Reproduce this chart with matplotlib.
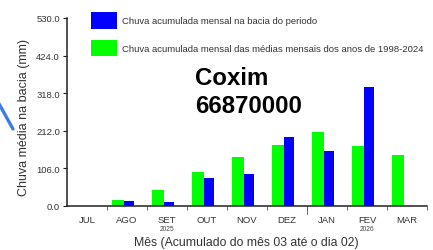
import matplotlib
matplotlib.use("Agg")
import matplotlib.pyplot as plt
from matplotlib.patches import Rectangle
from matplotlib.lines import Line2D
import numpy as np

plt.rcParams['font.family'] = ['Liberation Sans', 'DejaVu Sans']

months = ["JUL", "AGO", "SET", "OUT", "NOV", "DEZ", "JAN", "FEV", "MAR"]
media_hist = [0, 17, 44, 96, 137, 173, 209, 170, 145]
periodo = [0, 13, 10, 80, 91, 194, 155, 335, None]
yticks = [0.0, 106.0, 212.0, 318.0, 424.0, 530.0]
legend_labels = ["Chuva acumulada mensal na bacia do periodo",
                 "Chuva acumulada mensal das médias mensais dos anos de 1998-2024"]
station = "Coxim\n66870000"
year_labels = {"SET": "2025", "FEV": "2026"}

W, H = 433, 251
fig = plt.figure(figsize=(W / 100, H / 100), dpi=100)
ax = fig.add_axes([67 / W, 1 - 207 / H, 360 / W, 188 / H])

x = np.arange(len(months))
green = "#00ff00"
blue = "#0000ff"
ax.bar(x - 0.375, media_hist, width=0.3, align='edge', color=green, edgecolor='none', zorder=2)
pv = [v if v is not None else 0 for v in periodo]
ax.bar(x - 0.075, pv, width=0.26, align='edge', color=blue, edgecolor='none', zorder=2)

ax.set_xlim(-0.5, len(months) - 0.5)
ax.set_ylim(0, 530)
for s in ['top', 'right']:
    ax.spines[s].set_visible(False)
for s in ['left', 'bottom']:
    ax.spines[s].set_color('#222222')
    ax.spines[s].set_linewidth(1.1)

ax.set_yticks(yticks)
ax.set_yticklabels([f"{v:.1f}" for v in yticks])
ax.tick_params(axis='y', direction='out', length=3, width=0.8, colors='#222222',
               labelsize=6.8, labelcolor='#333333', pad=2)

ax.set_xticks(x)
ax.set_xticklabels(months)
ax.tick_params(axis='x', which='major', length=0, labelsize=6.8, labelcolor='#333333', pad=6.5)
ax.set_xticks(np.arange(len(months) + 1)[1:] - 0.5, minor=True)
ax.tick_params(axis='x', which='minor', length=3, width=0.6, color='#555555')

# longer tick at year boundary (DEZ|JAN)
jan_i = months.index("JAN")
ax.plot([jan_i - 0.5, jan_i - 0.5], [0, -22], color='#555555', lw=0.6, clip_on=False)

for m, yl in year_labels.items():
    ax.text(months.index(m), -64, yl, ha='center', va='center', fontsize=4.8,
            color='#444444', transform=ax.transData, clip_on=False)

fig.text(24 / W, 1 - 117 / H, "Chuva média na bacia (mm)", rotation=90,
         ha='center', va='center', fontsize=9, color='#333333')
fig.text(246 / W, 1 - 243 / H, "Mês (Acumulado do mês 03 até o dia 02)",
         ha='center', va='center', fontsize=8.8, color='#333333')

# legend
for i, (lab, col) in enumerate(zip(legend_labels, [blue, green])):
    top = 13 + i * 27.5
    fig.add_artist(Rectangle((91 / W, 1 - (top + 16.5) / H), 26 / W, 16.5 / H,
                             transform=fig.transFigure, facecolor=col, edgecolor='none'))
    fig.text(122 / W, 1 - (top + 8.5) / H, lab, ha='left', va='center',
             fontsize=6.8, color='#333333')

fig.text(195 / W, 1 - 85 / H, station.split("\n")[0], ha='left', va='baseline',
         fontsize=17.3, fontweight='bold', color='black')
fig.text(195 / W, 1 - 113 / H, station.split("\n")[1], ha='left', va='baseline',
         fontsize=17.3, fontweight='bold', color='black')

# decorative blue stroke at left edge
fig.add_artist(Line2D([-2 / W, 13 / W], [1 - 103 / H, 1 - 130 / H], transform=fig.transFigure,
                      color='#3b7de8', lw=2.4, solid_capstyle='round'))

fig.savefig("out.png", dpi=100)
